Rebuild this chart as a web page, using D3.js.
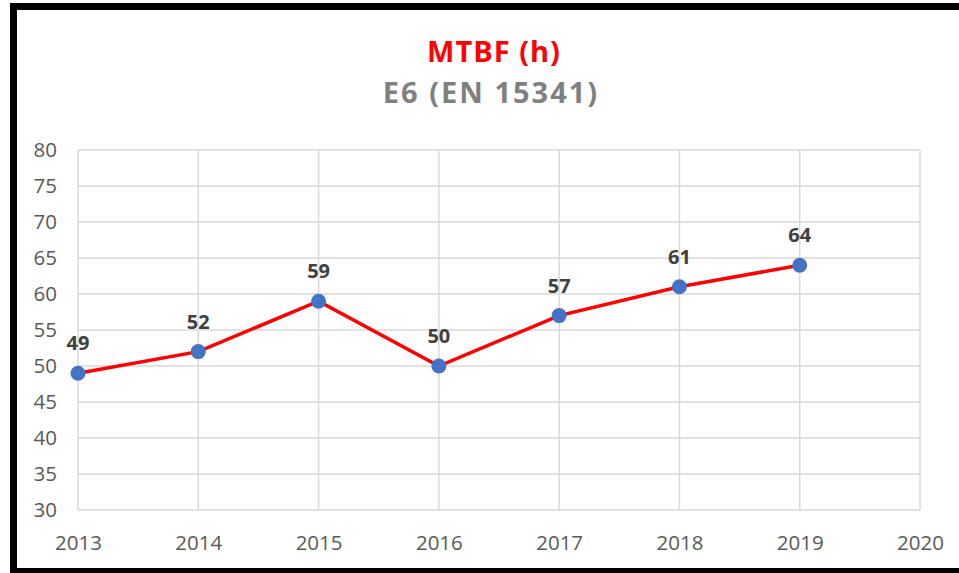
<!DOCTYPE html>
<html>
<head>
<meta charset="utf-8">
<script src="https://cdn.jsdelivr.net/npm/d3@7"></script>
<style>
  html, body { margin: 0; padding: 0; background: #fff; }
  svg { display: block; font-family: "Open Sans", "Noto Sans", sans-serif; }
</style>
</head>
<body>
<div id="svg-container"></div>
<script>
////////////////////////////////////////////////////////////////////
////////////////////////////  Data  ////////////////////////////////
const years = [2013, 2014, 2015, 2016, 2017, 2018, 2019];
const mtbf = [49, 52, 59, 50, 57, 61, 64];
const xTicks = [2013, 2014, 2015, 2016, 2017, 2018, 2019, 2020];
const yTicks = [30, 35, 40, 45, 50, 55, 60, 65, 70, 75, 80];
const title = "MTBF (h)";
const subtitle = "E6 (EN 15341)";

////////////////////////////////////////////////////////////////////
////////////////////////////  Init  ////////////////////////////////
const width = 959;
const height = 573;
const margin = { top: 150, right: 39, bottom: 63, left: 78 };

const svg = d3
  .select("#svg-container")
  .append("svg")
  .attr("width", width)
  .attr("height", height);

// frame (right side runs off the picture)
svg
  .append("path")
  .attr("d", `M${width + 10},6.5 H13.5 V571.5 H${width + 10}`)
  .attr("fill", "none")
  .attr("stroke", "#000")
  .attr("stroke-width", 7);

// Scales
const xScale = d3
  .scaleLinear()
  .domain([2013, 2020])
  .range([margin.left, width - margin.right]);

const yScale = d3
  .scaleLinear()
  .domain([30, 80])
  .range([height - margin.bottom, margin.top]);

// Grid
svg
  .append("g")
  .selectAll("line")
  .data(yTicks)
  .join("line")
  .attr("x1", xScale(2013))
  .attr("x2", xScale(2020))
  .attr("y1", (d) => yScale(d))
  .attr("y2", (d) => yScale(d))
  .attr("stroke", "#d9d9d9")
  .attr("stroke-width", 1.5);

svg
  .append("g")
  .selectAll("line")
  .data(xTicks)
  .join("line")
  .attr("x1", (d) => xScale(d))
  .attr("x2", (d) => xScale(d))
  .attr("y1", yScale(30))
  .attr("y2", yScale(80))
  .attr("stroke", "#d9d9d9")
  .attr("stroke-width", 1.5);

// Axes (labels only)
const yAxis = d3.axisLeft(yScale).tickValues(yTicks).tickSize(0).tickPadding(21);
const xAxis = d3
  .axisBottom(xScale)
  .tickValues(xTicks)
  .tickSize(0)
  .tickPadding(25)
  .tickFormat(d3.format("d"));

const gy = svg.append("g").attr("transform", `translate(${margin.left},0)`).call(yAxis);
const gx = svg
  .append("g")
  .attr("transform", `translate(0,${height - margin.bottom})`)
  .call(xAxis);

[gx, gy].forEach((g) => {
  g.select(".domain").remove();
  g.selectAll("text")
    .attr("fill", "#595959")
    .attr("font-size", 20.5)
    .attr("font-family", "'Open Sans', sans-serif");
});

// Titles
svg
  .append("text")
  .attr("x", 494)
  .attr("y", 62)
  .attr("text-anchor", "middle")
  .attr("font-size", 29)
  .attr("letter-spacing", 1)
  .attr("font-weight", "bold")
  .attr("fill", "#ff0000")
  .text(title);

svg
  .append("text")
  .attr("x", 491)
  .attr("y", 103)
  .attr("text-anchor", "middle")
  .attr("font-size", 29)
  .attr("letter-spacing", 2)
  .attr("font-weight", "bold")
  .attr("fill", "#808080")
  .text(subtitle);

// Line
const data = years.map((y, i) => ({ year: y, value: mtbf[i] }));

const lineGenerator = d3
  .line()
  .x((d) => xScale(d.year))
  .y((d) => yScale(d.value));

svg
  .append("path")
  .datum(data)
  .attr("d", lineGenerator)
  .attr("fill", "none")
  .attr("stroke", "#ff0000")
  .attr("stroke-width", 3.5);

// Points
svg
  .append("g")
  .selectAll("circle")
  .data(data)
  .join("circle")
  .attr("cx", (d) => xScale(d.year))
  .attr("cy", (d) => yScale(d.value))
  .attr("r", 7.5)
  .attr("fill", "#4472c4");

// Data labels
svg
  .append("g")
  .selectAll("text")
  .data(data)
  .join("text")
  .attr("x", (d) => xScale(d.year))
  .attr("y", (d) => yScale(d.value) - 23)
  .attr("text-anchor", "middle")
  .attr("font-size", 20)
  .attr("font-weight", "bold")
  .attr("fill", "#404040")
  .text((d) => d.value);
</script>
</body>
</html>
